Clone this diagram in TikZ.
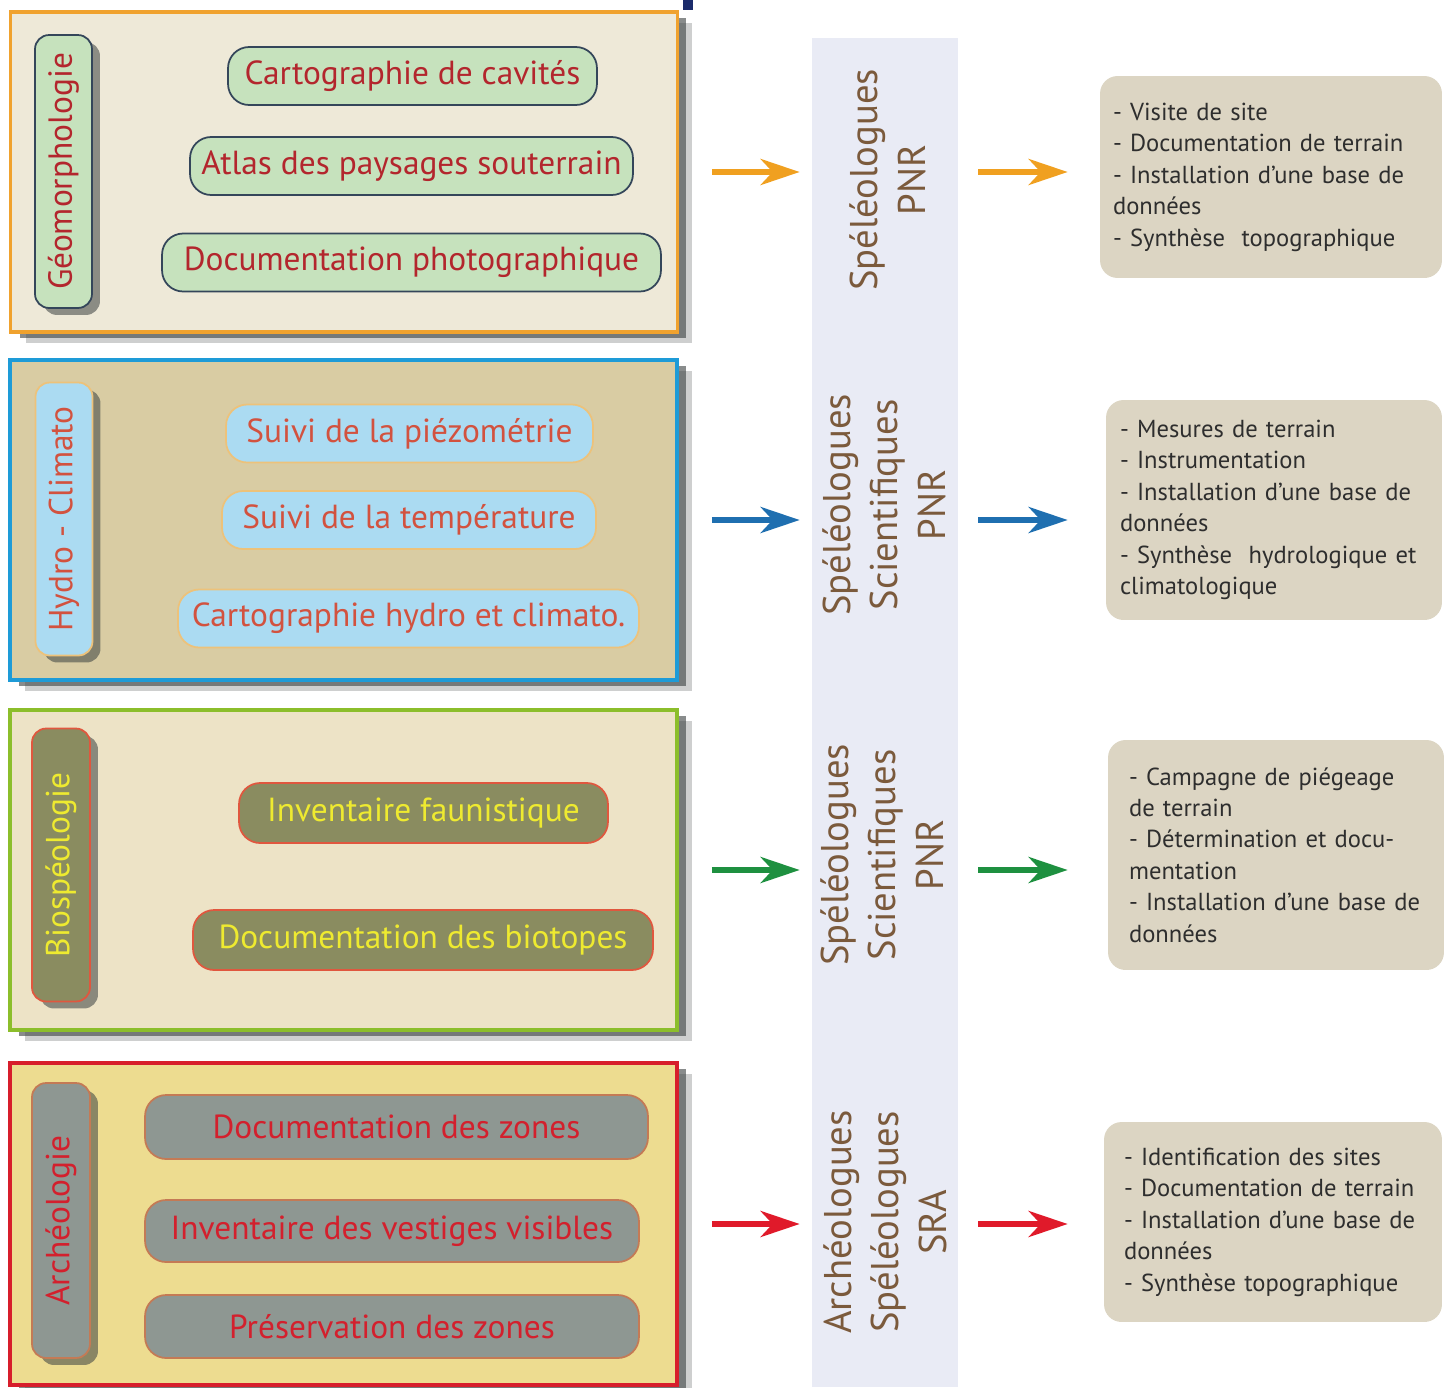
\documentclass[tikz,border=0pt]{standalone}
\usepackage{fontspec}
\setmainfont{PT Sans}
\usetikzlibrary{arrows.meta, positioning, shadows}
\definecolor{geoLine}{HTML}{F0A22E}
\definecolor{geoPanel}{HTML}{EEE9D8}
\definecolor{geoFill}{HTML}{C6E2BD}
\definecolor{geoEdge}{HTML}{34465A}
\definecolor{geoText}{HTML}{B3262D}
\definecolor{hydLine}{HTML}{1E9BD7}
\definecolor{hydPanel}{HTML}{D9CCA3}
\definecolor{hydFill}{HTML}{ABDBF2}
\definecolor{hydEdge}{HTML}{EDC27A}
\definecolor{hydText}{HTML}{D2523F}
\definecolor{bioLine}{HTML}{8CBE2B}
\definecolor{bioPanel}{HTML}{EDE3C6}
\definecolor{bioFill}{HTML}{8A8C60}
\definecolor{bioEdge}{HTML}{E0573E}
\definecolor{bioText}{HTML}{EEEA30}
\definecolor{arcLine}{HTML}{D71E2B}
\definecolor{arcPanel}{HTML}{EDDC90}
\definecolor{arcFill}{HTML}{8E9792}
\definecolor{arcEdge}{HTML}{C47A55}
\definecolor{arcText}{HTML}{D3202D}
\definecolor{stripFill}{HTML}{E9EBF5}
\definecolor{teamBrown}{HTML}{7B5A3C}
\definecolor{resFill}{HTML}{DCD5C3}
\definecolor{resText}{HTML}{2E2E2E}
\definecolor{shadowGrey}{HTML}{3A4040}
\definecolor{titleBlue}{HTML}{1B2B6B}
\definecolor{arrOrange}{HTML}{F0A020}
\definecolor{arrBlue}{HTML}{1F6FB0}
\definecolor{arrGreen}{HTML}{1E9040}
\definecolor{arrRed}{HTML}{E01A2A}

\begin{document}
\begin{tikzpicture}[
    x=0.02cm, y=-0.02cm,
    panel/.style={rectangle, line width=2.2pt, minimum width=13.34cm, minimum height=6.4cm,
                  drop shadow={shadow xshift=0.3cm, shadow yshift=-0.22cm, opacity=0.25, fill=shadowGrey},
                  drop shadow={shadow xshift=0.18cm, shadow yshift=-0.12cm, opacity=0.6, fill=shadowGrey}},
    sidelabel/.style={rectangle, rounded corners=8pt, rotate=90, line width=1pt,
                  minimum width=5.46cm, minimum height=1.14cm, inner sep=0pt,
                  font=\fontsize{19}{22}\selectfont,
                  drop shadow={shadow xshift=0.16cm, shadow yshift=-0.14cm, opacity=0.55, fill=shadowGrey}},
    task/.style={rectangle, rounded corners=12pt, line width=1pt, minimum height=1.16cm,
                  inner sep=0pt, font=\fontsize{19}{22}\selectfont},
    team/.style={rotate=90, align=center, text=teamBrown, font=\fontsize{22}{27}\selectfont},
    result/.style={rectangle, rounded corners=10pt, fill=resFill, text=resText, align=left,
                  text width=6.32cm, inner xsep=0.26cm, font=\fontsize{14}{17.9}\selectfont},
    flow/.style={line width=3.4pt, -{Stealth[length=0.78cm, width=0.52cm, inset=0.24cm]}},
  ]
    \useasboundingbox (0,0) rectangle (1444,1387);
    \fill[titleBlue] (683,0) rectangle (693,10);

    \node[rectangle, fill=stripFill, minimum width=2.92cm, minimum height=26.98cm] (strip) at (885,712.5) {};

    \node[panel, draw=geoLine, fill=geoPanel] (geo) at (344,172) {};
    \node[panel, draw=hydLine, fill=hydPanel] (hyd) at (343.5,520) {};
    \node[panel, draw=bioLine, fill=bioPanel] (bio) at (343.5,870) {};
    \node[panel, draw=arcLine, fill=arcPanel, minimum height=6.44cm] (arc) at (343.5,1224) {};

    \node[sidelabel, draw=geoEdge, fill=geoFill, text=geoText] (geolab) at (63.5,171.5) {Géomorphologie};
    \node[sidelabel, draw=hydEdge, fill=hydFill, text=hydText] (hydlab) at (64,519) {Hydro - Climato};
    \node[sidelabel, draw=bioEdge, fill=bioFill, text=bioText, minimum height=1.16cm] (biolab) at (61,865) {Biospéologie};
    \node[sidelabel, draw=arcEdge, fill=arcFill, text=arcText, minimum height=1.16cm, minimum width=5.5cm] (arclab) at (61,1220.5) {Archéologie};

    \node[task, draw=geoEdge, fill=geoFill, text=geoText, minimum width=7.38cm] (g1) at (412.5,76) {Cartographie de cavités};
    \node[task, draw=geoEdge, fill=geoFill, text=geoText, minimum width=8.86cm] (g2) at (411.5,166) {Atlas des paysages souterrain};
    \node[task, draw=geoEdge, fill=geoFill, text=geoText, minimum width=9.98cm] (g3) at (411.5,262.5) {Documentation photographique};

    \node[task, draw=hydEdge, fill=hydFill, text=hydText, minimum width=7.34cm] (h1) at (409.5,433.5) {Suivi de la piézométrie};
    \node[task, draw=hydEdge, fill=hydFill, text=hydText, minimum width=7.48cm] (h2) at (409,520) {Suivi de la température};
    \node[task, draw=hydEdge, fill=hydFill, text=hydText, minimum width=9.22cm] (h3) at (408.5,618.5) {Cartographie hydro et climato.};

    \node[task, draw=bioEdge, fill=bioFill, text=bioText, minimum width=7.38cm, minimum height=1.2cm] (b1) at (423.5,813) {Inventaire faunistique};
    \node[task, draw=bioEdge, fill=bioFill, text=bioText, minimum width=9.2cm, minimum height=1.2cm] (b2) at (423,940) {Documentation des biotopes};

    \node[task, draw=arcEdge, fill=arcFill, text=arcText, minimum width=10.06cm, minimum height=1.28cm] (a1) at (396.5,1127) {Documentation des zones};
    \node[task, draw=arcEdge, fill=arcFill, text=arcText, minimum width=9.88cm, minimum height=1.24cm] (a2) at (392,1231) {Inventaire des vestiges visibles};
    \node[task, draw=arcEdge, fill=arcFill, text=arcText, minimum width=9.88cm, minimum height=1.26cm] (a3) at (392,1326.5) {Préservation des zones};

    \node[team] (geoteam) at (888,180) {Spéléologues\\PNR};
    \node[team] (hydteam) at (884,505) {Spéléologues\\Scientifiques\\PNR};
    \node[team] (bioteam) at (882,855) {Spéléologues\\Scientifiques\\PNR};
    \node[team] (arcteam) at (885,1222) {Archéologues\\Spéléologues\\SRA};

    \node[result, minimum width=6.84cm, minimum height=4.04cm] (r1) at (1271,177) {- Visite de site\\- Documentation de terrain\\- Installation d’une base de\\données\\- Synthèse\ \ topographique};
    \node[result, minimum width=6.72cm, minimum height=4.4cm, inner xsep=0.28cm, text width=6.16cm] (r2) at (1274,510) {- Mesures de terrain\\- Instrumentation\\- Installation d’une base de\\données\\- Synthèse\ \ hydrologique et\\climatologique};
    \node[result, minimum width=6.72cm, minimum height=4.6cm, inner xsep=0.42cm, text width=5.88cm] (r3) at (1276,855) {- Campagne de piégeage\\de terrain\\- Détermination et docu-\\mentation\\- Installation d’une base de\\données};
    \node[result, minimum width=6.76cm, minimum height=4.0cm, inner xsep=0.4cm, text width=5.96cm] (r4) at (1273,1222) {- Identification des sites\\- Documentation de terrain\\- Installation d’une base de\\données\\- Synthèse topographique};

    \draw[flow, arrOrange, shorten <=0.66cm, shorten >=0.24cm] (geo.east) -- (geo.east -| strip.west);
    \draw[flow, arrBlue, shorten <=0.66cm, shorten >=0.24cm] (hyd.east) -- (hyd.east -| strip.west);
    \draw[flow, arrGreen, shorten <=0.66cm, shorten >=0.24cm] (bio.east) -- (bio.east -| strip.west);
    \draw[flow, arrRed, shorten <=0.66cm, shorten >=0.24cm] (arc.east) -- (arc.east -| strip.west);

    \draw[flow, arrOrange, shorten <=0.4cm, shorten >=0.64cm] (strip.east |- geo.east) -- (r1.west |- geo.east);
    \draw[flow, arrBlue, shorten <=0.4cm, shorten >=0.76cm] (strip.east |- hyd.east) -- (r2.west |- hyd.east);
    \draw[flow, arrGreen, shorten <=0.4cm, shorten >=0.8cm] (strip.east |- bio.east) -- (r3.west |- bio.east);
    \draw[flow, arrRed, shorten <=0.4cm, shorten >=0.72cm] (strip.east |- arc.east) -- (r4.west |- arc.east);
  \end{tikzpicture}
\end{document}
